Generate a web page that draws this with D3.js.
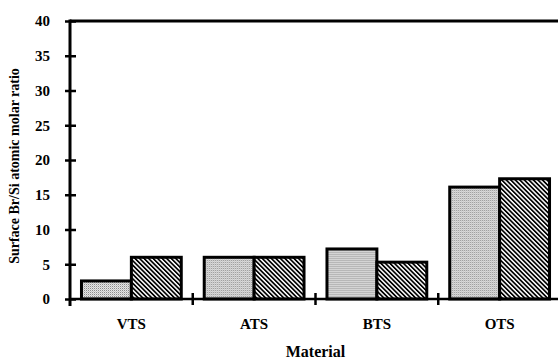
<!DOCTYPE html>
<html>
<head>
<meta charset="utf-8">
<script src="https://cdn.jsdelivr.net/npm/d3@7"></script>
<style>
  html, body { margin: 0; padding: 0; background: #fff; }
  svg { display: block; }
  text { font-family: "Liberation Serif", "DejaVu Serif", serif; font-weight: bold; fill: #000; }
</style>
</head>
<body>
<svg id="chart" width="558" height="360"></svg>
<script>
// Surface Br/Si atomic molar ratio by silane material, two treatments each
const categories = ["VTS", "ATS", "BTS", "OTS"];
const seriesStippled = [2.6, 6.0, 7.2, 16.1];
const seriesHatched = [6.0, 6.0, 5.3, 17.3];
const yTicks = [0, 5, 10, 15, 20, 25, 30, 35, 40];
const yTitle = "Surface Br/Si atomic molar ratio";
const xTitle = "Material";

const svg = d3.select("#chart");
const plotLeft = 70, plotRight = 561, plotTop = 21, plotBottom = 299;

const defs = svg.append("defs");
// fine grey stipple
const stip = defs.append("pattern").attr("id", "stipple")
  .attr("width", 2).attr("height", 2).attr("patternUnits", "userSpaceOnUse");
stip.append("rect").attr("width", 2).attr("height", 2).attr("fill", "#e4e4e4");
stip.append("rect").attr("width", 1).attr("height", 1).attr("fill", "#8a8a8a");
stip.append("rect").attr("x", 1).attr("y", 1).attr("width", 1).attr("height", 1).attr("fill", "#c4c4c4");
// diagonal hatching running down to the right
const hatch = defs.append("pattern").attr("id", "hatch")
  .attr("width", 3.2).attr("height", 3.2).attr("patternUnits", "userSpaceOnUse")
  .attr("patternTransform", "rotate(-45)");
hatch.append("rect").attr("width", 3.2).attr("height", 3.2).attr("fill", "#fff");
hatch.append("rect").attr("width", 1.7).attr("height", 3.2).attr("fill", "#000");

const x0 = d3.scaleBand().domain(categories).range([plotLeft, plotRight]).padding(0);
const x1 = d3.scaleBand().domain(["stippled", "hatched"])
  .range([0, x0.bandwidth()]).paddingInner(0).paddingOuter(0.23);
const y = d3.scaleLinear().domain([0, 40]).range([plotBottom, plotTop]);

const rows = categories.map((c, i) => ({
  cat: c,
  vals: [
    { key: "stippled", v: seriesStippled[i], fill: "url(#stipple)" },
    { key: "hatched", v: seriesHatched[i], fill: "url(#hatch)" }
  ]
}));

// bars
const g = svg.append("g");
g.selectAll("g.grp").data(rows).join("g")
  .attr("class", "grp")
  .attr("transform", d => `translate(${x0(d.cat)},0)`)
  .selectAll("rect").data(d => d.vals).join("rect")
  .attr("x", d => x1(d.key))
  .attr("y", d => y(d.v))
  .attr("width", x1.bandwidth())
  .attr("height", d => y(0) - y(d.v))
  .attr("fill", d => d.fill)
  .attr("stroke", "#000")
  .attr("stroke-width", 3);

// top frame line
svg.append("line")
  .attr("x1", plotLeft).attr("x2", plotRight).attr("y1", y(40)).attr("y2", y(40))
  .attr("stroke", "#000").attr("stroke-width", 3);

// x axis: category labels
const xAxis = svg.append("g")
  .attr("transform", `translate(0,${plotBottom})`)
  .call(d3.axisBottom(x0).tickSize(0).tickPadding(19));
xAxis.select(".domain").remove();
xAxis.selectAll("text").style("font-size", "15px")
  .style("font-family", "'Liberation Serif', serif").style("font-weight", "bold");

svg.append("line")
  .attr("x1", plotLeft).attr("x2", plotRight).attr("y1", plotBottom).attr("y2", plotBottom)
  .attr("stroke", "#000").attr("stroke-width", 2.5);
// group separator ticks
svg.selectAll("line.sep").data(categories.slice(1)).join("line")
  .attr("class", "sep")
  .attr("x1", d => x0(d)).attr("x2", d => x0(d))
  .attr("y1", plotBottom - 6).attr("y2", plotBottom + 6)
  .attr("stroke", "#000").attr("stroke-width", 2.5);

// y axis
const yAxis = svg.append("g")
  .attr("transform", `translate(${plotLeft},0)`)
  .call(d3.axisLeft(y).tickValues(yTicks).tickSize(5).tickPadding(15));
yAxis.select(".domain").remove();
yAxis.selectAll(".tick line").attr("x1", 6).attr("stroke", "#000").attr("stroke-width", 2.5);
yAxis.selectAll("text").style("font-size", "15px")
  .style("font-family", "'Liberation Serif', serif").style("font-weight", "bold");
svg.append("line")
  .attr("x1", plotLeft).attr("x2", plotLeft).attr("y1", plotTop - 1.5).attr("y2", plotBottom + 7)
  .attr("stroke", "#000").attr("stroke-width", 3);

// axis titles
svg.append("text")
  .attr("x", (plotLeft + plotRight) / 2).attr("y", 357)
  .attr("text-anchor", "middle").style("font-size", "16px")
  .text(xTitle);
svg.append("text")
  .attr("transform", `translate(19,${(plotTop + plotBottom) / 2 + 6}) rotate(-90)`)
  .attr("text-anchor", "middle").style("font-size", "14px")
  .text(yTitle);
</script>
</body>
</html>
